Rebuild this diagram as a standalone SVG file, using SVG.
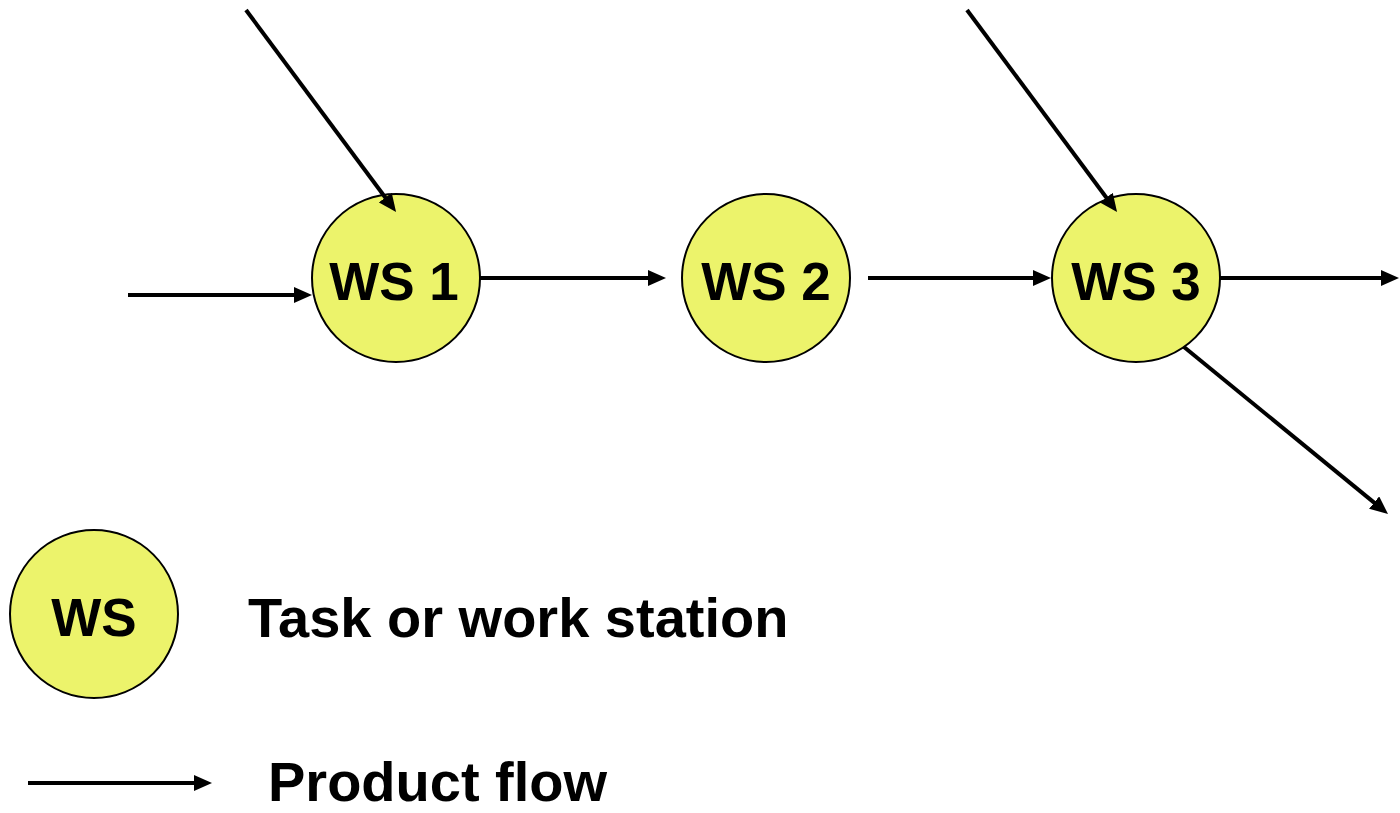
<svg xmlns="http://www.w3.org/2000/svg" width="1400" height="813" viewBox="0 0 1400 813">
  <style>
    .station { fill: #ECF36B; stroke: #000; stroke-width: 2; }
    .label { font-family: "Liberation Sans", Arial, sans-serif; font-weight: bold; fill: #000; }
    .flow { stroke: #000; stroke-width: 4; fill: none; marker-end: url(#head); }
  </style>
  <defs>
    <!-- solid arrowhead; lines stop 14px short of the tip so the stroke stays hidden -->
    <marker id="head" viewBox="0 0 18 16" refX="4" refY="8" markerWidth="18" markerHeight="16" markerUnits="userSpaceOnUse" orient="auto">
      <path d="M0,0 L18,8 L0,16 Z" fill="#000"/>
    </marker>
  </defs>
  <rect width="1400" height="813" fill="#fff"/>

  <g id="ws1">
    <circle class="station" cx="396" cy="278" r="84"/>
    <text class="label" x="394" y="300" font-size="53" text-anchor="middle">WS 1</text>
  </g>
  <g id="ws2">
    <circle class="station" cx="766" cy="278" r="84"/>
    <text class="label" x="766" y="300" font-size="53" text-anchor="middle">WS 2</text>
  </g>
  <g id="ws3">
    <circle class="station" cx="1136" cy="278" r="84"/>
    <text class="label" x="1136" y="300" font-size="53" text-anchor="middle">WS 3</text>
  </g>

  <g id="connectors">
    <line class="flow" x1="128" y1="295" x2="298" y2="295"/>
    <line class="flow" x1="246" y1="10" x2="387.7" y2="200.8"/>
    <line class="flow" x1="480" y1="278" x2="652" y2="278"/>
    <line class="flow" x1="868" y1="278" x2="1037" y2="278"/>
    <line class="flow" x1="967" y1="10" x2="1108.7" y2="200.8"/>
    <line class="flow" x1="1220" y1="278" x2="1385" y2="278"/>
    <line class="flow" x1="1184" y1="347" x2="1377.2" y2="505.1"/>
  </g>

  <g id="legend-station">
    <circle class="station" cx="94" cy="614" r="84"/>
    <text class="label" x="94" y="636" font-size="53" text-anchor="middle">WS</text>
    <text class="label" x="248" y="637" font-size="56">Task or work station</text>
  </g>
  <g id="legend-flow">
    <line class="flow" x1="28" y1="783" x2="198" y2="783"/>
    <text class="label" x="268" y="801" font-size="56">Product flow</text>
  </g>
</svg>
